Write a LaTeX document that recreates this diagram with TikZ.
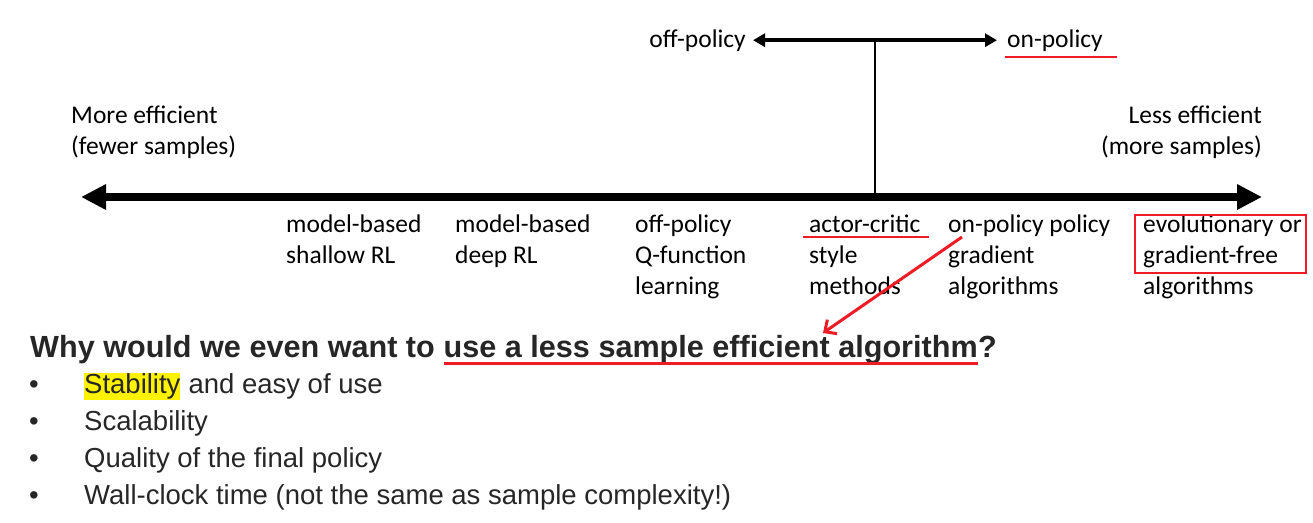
\documentclass[tikz,border=0pt]{standalone}
\usepackage{fontspec}
\setmainfont{Carlito}
\newfontfamily\arialfont{Liberation Sans}
\usetikzlibrary{arrows.meta,positioning,calc}

\definecolor{markred}{RGB}{238,28,36}
\definecolor{hiyellow}{RGB}{255,242,0}
\definecolor{slidetext}{RGB}{38,38,38}

\tikzset{
  colnote/.style={font=\fontsize{25.5}{31}\selectfont, inner sep=0pt, anchor=base west},
  heading/.style={font=\arialfont\bfseries\fontsize{30.6}{36}\selectfont, text=slidetext, inner sep=0pt, anchor=base west},
  bullet/.style={font=\arialfont\fontsize{27.5}{37}\selectfont, text=slidetext, inner sep=0pt, anchor=base west},
  axis/.style={line width=8pt, {Triangle[length=25pt,width=24pt]}-{Triangle[length=25pt,width=24pt]}},
  thinarrow/.style={line width=3.6pt, {Triangle[length=12pt,width=13pt]}-{Triangle[length=12pt,width=13pt]}},
  redmark/.style={draw=markred, line width=2pt},
  redbox/.style={draw=markred, line width=1.3pt},
  redarrow/.style={draw=markred, line width=3pt, -{Straight Barb[length=9pt,width=17pt]}}
}

\begin{document}
\begin{tikzpicture}[x=1pt, y=-1pt]
  \useasboundingbox (0,0) rectangle (1313,522);

  % off-policy / on-policy split
  \node[colnote, anchor=base east] (offp) at (746,47) {off-policy};
  \node[colnote] (onp) at (1007,47) {on-policy};
  \draw[thinarrow, shorten <=7pt, shorten >=10pt] (offp.east) -- (onp.west);
  \coordinate (tee) at (875,40);

  % efficiency ends
  \node[colnote] (more1) at (71,123) {More efficient};
  \node[colnote] (more2) at (71,154) {(fewer samples)};
  \node[colnote, anchor=base east] (less1) at (1262,123) {Less efficient};
  \node[colnote, anchor=base east] (less2) at (1262,154) {(more samples)};

  % main axis
  \coordinate (moreend) at (81,197);
  \coordinate (lessend) at (1262,197);
  \draw[line width=2.2pt] (tee) -- (tee |- moreend);
  \draw[axis] (moreend) -- (lessend);

  % algorithm families
  \foreach \id/\x/\la/\lb/\lc in {mbshallow/286/model-based/shallow RL/{},
      mbdeep/455/model-based/deep RL/{},
      offq/635/off-policy/Q-function/learning,
      ac/809/actor-critic/style/methods,
      pg/948/on-policy policy/gradient/algorithms,
      evo/1143/evolutionary or/gradient-free/algorithms} {
    \node[colnote] (\id1) at (\x,232) {\la};
    \node[colnote] (\id2) at (\x,263) {\lb};
    \node[colnote] (\id3) at (\x,294) {\lc};
  }

  % question
  \node[heading] (why) at (30,357) {Why would we even want to};
  \node[heading, right=8.5pt of why.base east, anchor=base west] (ul) {use a less sample efficient algorithm};
  \node[heading] (qm) at (ul.base east) {?};

  % reasons
  \foreach \k in {0,...,3}
    \node[bullet] (dot\k) at (29,393+37*\k) {\textbullet};
  \node[bullet, fill=hiyellow, text height=19pt, text depth=6pt, inner ysep=1pt] (stab) at (84,393) {Stability};
  \node[bullet] (ease) at (stab.base east) {\ and easy of use};
  \node[bullet] (scal) at (84,430) {Scalability};
  \node[bullet] (qual) at (84,467) {Quality of the final policy};
  \node[bullet] (wall) at (84,504) {Wall-clock time (not the same as sample complexity!)};

  % red annotations
  \draw[redmark] ($(onp.base west)+(-2,10)$) -- ($(onp.base east)+(14,10)$);
  \draw[redmark] ($(ac1.base west)+(-6,5)$) -- ($(ac1.base east)+(8,5)$);
  \draw[redbox] ($(evo1.base west)+(-8,-17)$) rectangle ($(evo1.base east |- evo2.base)+(4,10)$);
  \draw[redmark, line width=3pt] ($(ul.base west)+(0,6)$) -- ($(ul.base east)+(0,6)$);
  \coordinate (pgtail) at ($(pg1.base west)+(14,5)$);
  \coordinate (hdtip) at (823,333);
  \draw[redarrow] (pgtail) -- (hdtip);
\end{tikzpicture}
\end{document}
